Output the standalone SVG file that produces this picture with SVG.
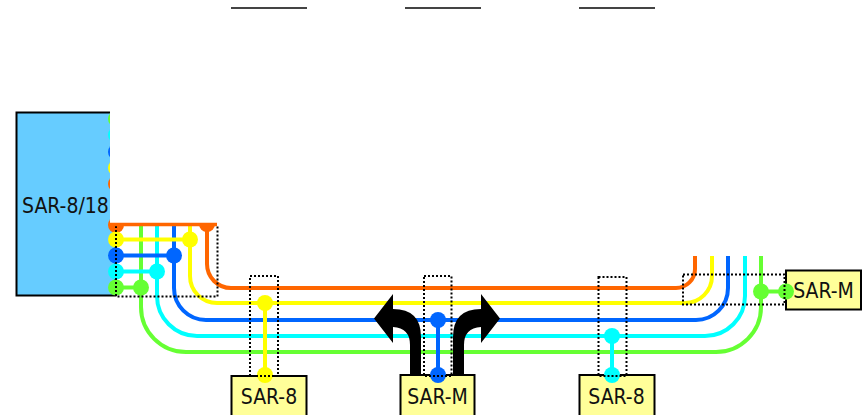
<svg xmlns="http://www.w3.org/2000/svg" width="865" height="415" viewBox="0 0 865 415">
<style>
.l{fill:none;stroke-width:4}
.o{stroke:#FF6600}.y{stroke:#FFFF00}.b{stroke:#0066FF}.c{stroke:#00FFFF}.g{stroke:#66FF33}
.fo{fill:#FF6600}.fy{fill:#FFFF00}.fb{fill:#0066FF}.fc{fill:#00FFFF}.fg{fill:#66FF33}
.box{fill:#FFFF99;stroke:#000;stroke-width:2}
.dot{fill:none;stroke:#000;stroke-width:2;stroke-dasharray:2 2}
.t{font-family:"DejaVu Sans Condensed","DejaVu Sans",sans-serif;font-stretch:condensed;font-size:21px;fill:#111;text-anchor:middle}
.top{stroke:#444;stroke-width:2}
</style>
<rect id="white-page" width="865" height="415" fill="#fff"/>
<g id="node-sar-8-18">
<rect x="16.500" y="112.500" width="99" height="183" fill="#66CCFF" stroke="#000" stroke-width="2"/>
<text class="t" x="22" y="213" style="text-anchor:start">SAR-8/18</text>
<circle class="fg" cx="116" cy="119" r="8"/><circle class="fc" cx="116" cy="135" r="8"/><circle class="fb" cx="116" cy="152" r="8"/><circle class="fy" cx="116" cy="168" r="8"/><circle class="fo" cx="116" cy="184" r="8"/>
<circle class="fo" cx="116" cy="225" r="8"/><circle class="fo" cx="207" cy="224" r="8"/>
</g>
<rect x="110" y="100" width="755" height="123" fill="#fff"/>
<g id="connectors">
<path class="l g" d="M141 225V307A45 45 0 0 0 186 352H716A45 45 0 0 0 761 307V256"/>
<path class="l c" d="M157 225V296A40 40 0 0 0 197 336H705A40 40 0 0 0 745 296V256"/>
<path class="l b" d="M174 225V288A32 32 0 0 0 206 320H696A32 32 0 0 0 728 288V256"/>
<path class="l y" d="M190 225V276A27 27 0 0 0 217 303H685A27 27 0 0 0 712 276V256"/>
<path class="l o" d="M207 225V264A24 24 0 0 0 231 288H676A19 19 0 0 0 695 269V256"/>
<path class="l y" d="M116 239.500H190"/><path class="l b" d="M116 255.500H174"/><path class="l c" d="M116 271.500H157"/><path class="l g" d="M116 287.500H141"/>
<path class="l g" d="M761 291.500H786"/>
<path class="l y" d="M265 303V375"/><path class="l b" d="M438 320V375"/><path class="l c" d="M612 336V375"/>
<path id="arrow-left" d="M410 375V345Q410 328 393 327V343L374 318.500L393 294V309Q421 309 421 337V375Z"/>
<path id="arrow-right" d="M464 375V345Q464 328 481 327V343L500 318.500L481 294V309Q453 309 453 337V375Z"/>
</g>
<g id="junction-dots">
<circle class="fy" cx="116" cy="239.500" r="8"/><circle class="fb" cx="116" cy="255.500" r="8"/><circle class="fc" cx="116" cy="271.500" r="8"/><circle class="fg" cx="116" cy="287.500" r="8"/>
<circle class="fy" cx="190" cy="239.500" r="8"/><circle class="fb" cx="174" cy="255.500" r="8"/><circle class="fc" cx="157" cy="271.500" r="8"/><circle class="fg" cx="141" cy="287.500" r="8"/>
<circle class="fg" cx="761" cy="291.500" r="8"/>
<circle class="fy" cx="265" cy="303" r="8"/><circle class="fb" cx="438" cy="320" r="8"/><circle class="fc" cx="612" cy="336" r="8"/>
</g>
<g id="node-sar-8-a"><rect class="box" x="231.500" y="376" width="75" height="40"/><text class="t" x="269" y="404">SAR-8</text></g>
<g id="node-sar-m-b"><rect class="box" x="400.500" y="375" width="74" height="41"/><text class="t" x="437.500" y="404">SAR-M</text></g>
<g id="node-sar-8-c"><rect class="box" x="579.500" y="375" width="75" height="41"/><text class="t" x="616.500" y="404">SAR-8</text></g>
<g id="port-dots">
<circle class="fy" cx="265" cy="375" r="8"/><circle class="fb" cx="438" cy="375" r="8"/><circle class="fc" cx="612" cy="375" r="8"/>
</g>
<g id="node-sar-m-d"><rect class="box" x="786" y="270.500" width="75" height="39"/><circle class="fg" cx="786" cy="291.500" r="8"/><text class="t" x="823.500" y="298">SAR-M</text></g>
<g id="dotted-boxes">
<path class="dot" d="M116 226V296.500H217.500V226"/>
<rect class="dot" x="250" y="276" width="28" height="100"/>
<rect class="dot" x="424" y="276" width="27.500" height="100"/>
<rect class="dot" x="598.500" y="277" width="28" height="99"/>
<rect class="dot" x="683" y="274.500" width="101.500" height="30"/>
</g>
<path class="l o" d="M110 224.500H217" style="stroke-width:3.500"/>
<g id="top-lines"><path class="top" d="M231 8H307M405 8H481M579 8H655"/></g>
</svg>
